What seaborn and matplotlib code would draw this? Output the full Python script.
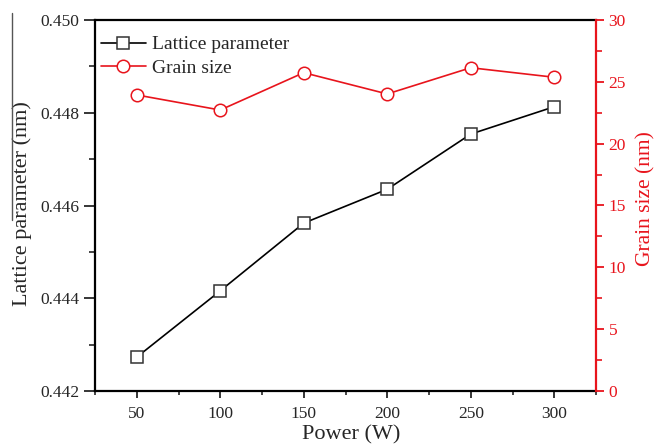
import matplotlib
matplotlib.use("Agg")
import matplotlib.pyplot as plt
from matplotlib.lines import Line2D
from matplotlib.ticker import MultipleLocator, AutoMinorLocator, FormatStrFormatter
import seaborn as sns
import pandas as pd

power = [50, 100, 150, 200, 250, 300]
lattice = [0.44273, 0.44416, 0.44562, 0.44635, 0.44754, 0.44813]
grain = [23.94, 22.72, 25.74, 24.02, 26.14, 25.37]

df = pd.DataFrame({"Power": power, "Lattice": lattice, "Grain": grain})

sns.set_style("ticks")
plt.rcParams["font.family"] = ["Liberation Serif", "DejaVu Serif"]

RED = "#e8141c"

fig = plt.figure(figsize=(6.54, 4.45), dpi=100)
ax = fig.add_axes([95 / 654, 1 - 391 / 445, (596 - 95) / 654, (391 - 20) / 445])
ax2 = ax.twinx()

sns.lineplot(data=df, x="Power", y="Lattice", ax=ax, color="black", lw=1.2,
             marker="s", markersize=8, markerfacecolor="white",
             markeredgecolor="#333333", markeredgewidth=1.1, legend=False)
sns.lineplot(data=df, x="Power", y="Grain", ax=ax2, color=RED, lw=1.2,
             marker="o", markersize=9, markerfacecolor="white",
             markeredgecolor=RED, markeredgewidth=1.1, legend=False)

ax.set_xlim(25, 325)
ax.set_ylim(0.442, 0.450)
ax2.set_ylim(0, 30)

ax.xaxis.set_major_locator(MultipleLocator(50))
ax.xaxis.set_minor_locator(AutoMinorLocator(2))
ax.yaxis.set_major_locator(MultipleLocator(0.002))
ax.yaxis.set_minor_locator(AutoMinorLocator(2))
ax.yaxis.set_major_formatter(FormatStrFormatter("%.3f"))
ax2.yaxis.set_major_locator(MultipleLocator(5))
ax2.yaxis.set_minor_locator(AutoMinorLocator(2))

for s in ["left", "bottom", "top"]:
    ax.spines[s].set_linewidth(1.6)
    ax.spines[s].set_color("black")
ax.spines["right"].set_visible(False)
for s in ["left", "bottom", "top"]:
    ax2.spines[s].set_visible(False)
ax2.spines["right"].set_color(RED)
ax2.spines["right"].set_linewidth(1.6)

ax.tick_params(axis="y", which="major", direction="out", length=8, width=1.3,
               labelsize=12.5, pad=3)
ax.tick_params(axis="y", which="minor", direction="out", length=4, width=1.2)
ax.tick_params(axis="x", which="major", direction="out", length=5, width=1.3,
               labelsize=12.5, pad=6)
ax.tick_params(axis="x", which="minor", direction="out", length=3, width=1.2)
ax.tick_params(top=False, right=False, which="both")
ax2.tick_params(axis="y", which="major", direction="out", length=6, width=1.3,
                labelsize=12.5, colors=RED, pad=3)
ax2.tick_params(axis="y", which="minor", direction="out", length=4, width=1.2,
                colors=RED)

ax.set_xlabel("Power (W)", fontsize=16)
ax.set_ylabel("Lattice parameter (nm)", fontsize=16)
ax2.set_ylabel("Grain size (nm)", fontsize=15.5, color=RED)
ax.xaxis.set_label_coords(0.511, -0.091)
ax.yaxis.set_label_coords(-0.126, 0.505)
ax2.yaxis.set_label_coords(1.080, 0.519)

# decorative rule beside the left axis label
fig.add_artist(Line2D([12 / 654, 12 / 654], [1 - 13 / 445, 1 - 220 / 445],
                      color="#555555", lw=1.0, transform=fig.transFigure))

handles = [
    Line2D([], [], color="black", lw=1.2, marker="s", markersize=8,
           markerfacecolor="white", markeredgecolor="#333333",
           markeredgewidth=1.1),
    Line2D([], [], color=RED, lw=1.2, marker="o", markersize=9,
           markerfacecolor="white", markeredgecolor=RED, markeredgewidth=1.1),
]
ax.legend(handles, ["Lattice parameter", "Grain size"], loc="upper left",
          bbox_to_anchor=(0.0, 0.973), frameon=False, fontsize=14,
          handlelength=2.3, handletextpad=0.35, labelspacing=0.3,
          borderaxespad=0.0, borderpad=0.3, numpoints=1)

fig.savefig("out.png", dpi=100)
